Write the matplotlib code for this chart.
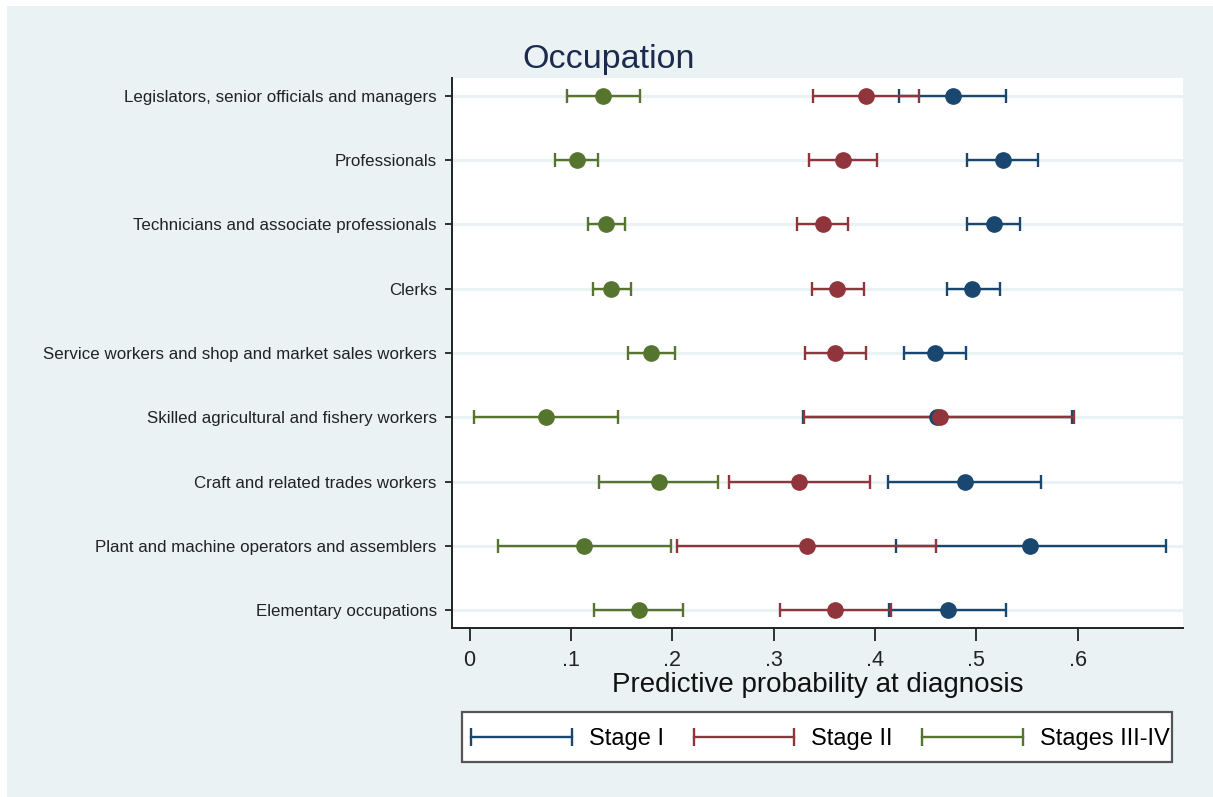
import numpy as np
import matplotlib.pyplot as plt
from matplotlib.patches import Rectangle
from matplotlib.lines import Line2D

# occupations, top to bottom
occupations = [
    'Legislators, senior officials and managers',
    'Professionals',
    'Technicians and associate professionals',
    'Clerks',
    'Service workers and shop and market sales workers',
    'Skilled agricultural and fishery workers',
    'Craft and related trades workers',
    'Plant and machine operators and assemblers',
    'Elementary occupations',
]

# Stage I
s1_est = [0.477, 0.526, 0.517, 0.496, 0.459, 0.461, 0.489, 0.553, 0.472]
s1_lo = [0.424, 0.491, 0.491, 0.471, 0.429, 0.329, 0.413, 0.421, 0.414]
s1_hi = [0.529, 0.561, 0.543, 0.523, 0.490, 0.594, 0.564, 0.687, 0.529]

# Stage II
s2_est = [0.391, 0.368, 0.349, 0.363, 0.361, 0.464, 0.325, 0.333, 0.361]
s2_lo = [0.339, 0.335, 0.323, 0.338, 0.331, 0.330, 0.256, 0.205, 0.306]
s2_hi = [0.443, 0.402, 0.373, 0.389, 0.391, 0.596, 0.395, 0.460, 0.416]

# Stages III-IV
s3_est = [0.132, 0.106, 0.135, 0.140, 0.179, 0.075, 0.187, 0.113, 0.167]
s3_lo = [0.096, 0.084, 0.117, 0.122, 0.156, 0.004, 0.128, 0.028, 0.123]
s3_hi = [0.168, 0.127, 0.153, 0.159, 0.203, 0.146, 0.245, 0.199, 0.211]

stages = ['Stage I', 'Stage II', 'Stages III-IV']
colors = ['#1a476f', '#90353b', '#55752f']
xticks = [0, 0.1, 0.2, 0.3, 0.4, 0.5, 0.6]
xticklabels = ['0', '.1', '.2', '.3', '.4', '.5', '.6']

W, H = 1213, 797
bg = '#eaf2f3'
plt.rcParams['font.family'] = ['Liberation Sans', 'DejaVu Sans']

fig = plt.figure(figsize=(W / 100, H / 100), dpi=100, facecolor='white')
# light graph region, thin white margin at top and left
fig.patches.append(Rectangle((7 / W, 0), 1, 1 - 6 / H, transform=fig.transFigure,
                             facecolor=bg, edgecolor='none', zorder=-10))

ax = fig.add_axes([452 / W, 1 - 628 / H, (1183 - 452) / W, (628 - 78) / H])
ax.set_facecolor('white')

y = np.arange(len(occupations))
for yy in y:
    ax.axhline(yy, color=bg, lw=2.2, zorder=0)

# blue first, then red, green on top
series = [(s1_est, s1_lo, s1_hi), (s2_est, s2_lo, s2_hi), (s3_est, s3_lo, s3_hi)]
for (est, lo, hi), c in zip(series, colors):
    est, lo, hi = np.array(est), np.array(lo), np.array(hi)
    ax.errorbar(est, y, xerr=[est - lo, hi - est], fmt='o', color=c, ecolor=c,
                elinewidth=1.7, capsize=4.8, capthick=1.7, markersize=11, zorder=3)

ax.set_xlim(-0.0174, 0.704)
ax.set_ylim(len(occupations) - 1 + 0.28, -0.28)

ax.set_yticks(y)
ax.set_yticklabels(occupations, fontsize=12.2, color='#222222')
ax.set_xticks(xticks)
ax.set_xticklabels(xticklabels, fontsize=15.5, color='#222222')
ax.tick_params(axis='y', length=5, width=1.3, color='#222222', pad=6)
ax.tick_params(axis='x', length=9, width=1.3, color='#222222', pad=7)

for s in ['top', 'right']:
    ax.spines[s].set_visible(False)
for s in ['left', 'bottom']:
    ax.spines[s].set_linewidth(1.4)
    ax.spines[s].set_color('#222222')

fig.text(609 / W, 1 - 68 / H, 'Occupation', ha='center', va='baseline',
         fontsize=24.5, color='#1c2a4f')
fig.text(817.5 / W, 1 - 692 / H, 'Predictive probability at diagnosis', ha='center',
         va='baseline', fontsize=20, color='#111111')

# legend box drawn on its own, entries centred inside it
fig.patches.append(Rectangle((462 / W, 1 - 762 / H), (1172 - 462) / W, 50 / H,
                             transform=fig.transFigure, facecolor='white',
                             edgecolor='#555555', lw=1.6, zorder=1))
handles = [Line2D([], [], color=c, lw=1.7, marker='|', markersize=13, markeredgewidth=1.7)
           for c in colors]
leg = fig.legend(handles, stages, loc='center', bbox_to_anchor=(817 / W, 1 - 739 / H),
                 ncol=3, numpoints=2, handlelength=4.87, handletextpad=0.42,
                 columnspacing=0.95, borderpad=0.15, frameon=False, prop={'size': 17})
leg.set_zorder(2)

fig.savefig('out.png', dpi=100, facecolor=fig.get_facecolor())
